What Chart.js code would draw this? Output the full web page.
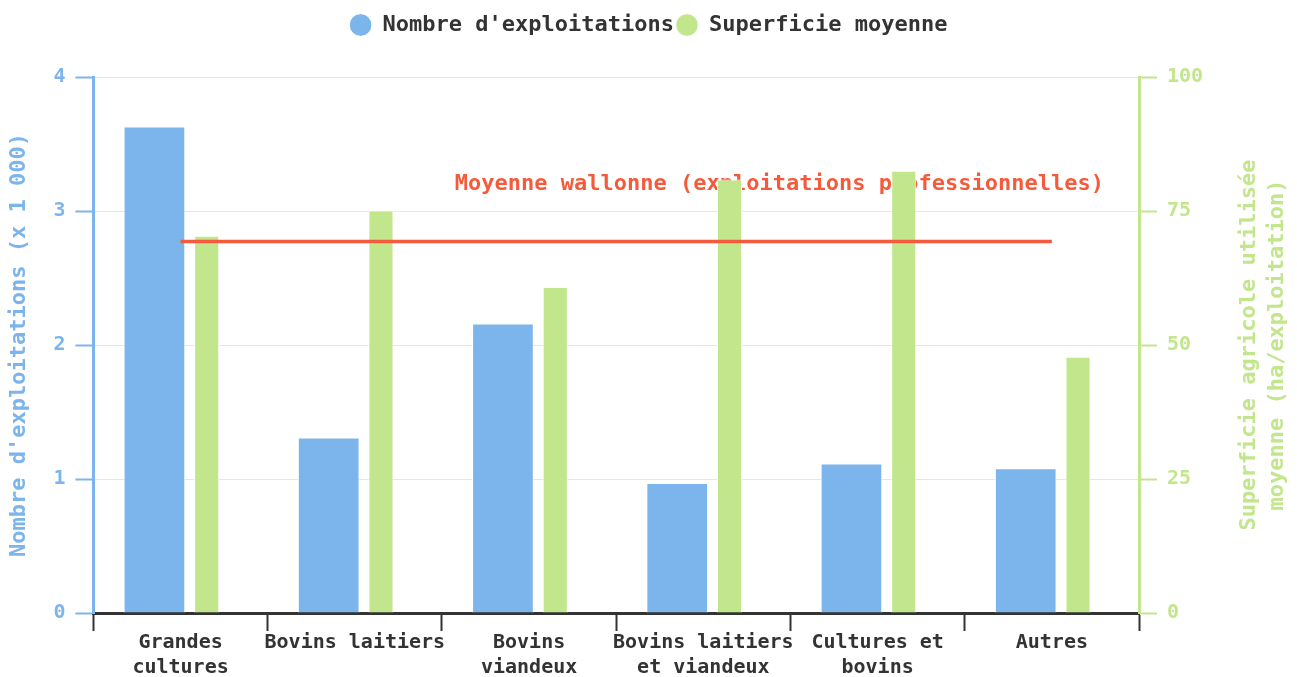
<!DOCTYPE html>
<html>
<head>
<meta charset="utf-8">
<script src="https://cdn.jsdelivr.net/npm/chart.js@4"></script>
<style>
  html, body { margin: 0; padding: 0; background: #fff; }
  #wrap { width: 1297px; height: 677px; }
</style>
</head>
<body>
<div id="wrap"><canvas id="myChart"></canvas></div>
<script>
const categories = [
  ["Grandes", "cultures"],
  "Bovins laitiers",
  ["Bovins", "viandeux"],
  ["Bovins laitiers", "et viandeux"],
  ["Cultures et", "bovins"],
  "Autres"
];
const nombreExploitations = [3.63, 1.31, 2.16, 0.97, 1.115, 1.08];
const superficieMoyenne = [70.4, 75.1, 60.8, 80.9, 82.5, 47.8];
const moyenneWallonne = [69.3, 69.3, 69.3, 69.3, 69.3, 69.3];
const leftTicks = [0, 1, 2, 3, 4];
const rightTicks = [0, 25, 50, 75, 100];

const FONT = '"DejaVu Sans Mono", monospace';
const BLUE = "#7cb5ec";
const GREEN = "#c2e68c";
const RED = "#f45b3c";

// label above the average line, drawn behind the bars
const avgLabel = {
  id: "avgLabel",
  beforeDatasetsDraw(chart) {
    const meta = chart.getDatasetMeta(0);
    const last = meta.data[meta.data.length - 1];
    const ctx = chart.ctx;
    ctx.save();
    ctx.font = "bold 22px " + FONT;
    ctx.fillStyle = RED;
    ctx.textAlign = "right";
    ctx.textBaseline = "middle";
    ctx.fillText("Moyenne wallonne (exploitations professionnelles)", last.x + 52, last.y - 57);
    ctx.restore();
  }
};

// right axis title reads bottom to top
const rightTitle = {
  id: "rightTitle",
  afterDraw(chart) {
    const ca = chart.chartArea;
    const ctx = chart.ctx;
    const cy = (ca.top + ca.bottom) / 2;
    ctx.save();
    ctx.font = "bold 22px " + FONT;
    ctx.fillStyle = GREEN;
    ctx.textAlign = "center";
    ctx.textBaseline = "middle";
    [["Superficie agricole utilisée", 110], ["moyenne (ha/exploitation)", 138]].forEach(function (l) {
      ctx.save();
      ctx.translate(ca.right + l[1], cy);
      ctx.rotate(-Math.PI / 2);
      ctx.fillText(l[0], 0, 0);
      ctx.restore();
    });
    ctx.restore();
  }
};

const legendSpace = {
  id: "legendSpace",
  beforeInit(chart) {
    const fit = chart.legend.fit;
    chart.legend.fit = function () {
      fit.bind(chart.legend)();
      this.height += 31;
    };
  }
};

new Chart("myChart", {
  type: "bar",
  data: {
    labels: categories,
    datasets: [{
      type: "line",
      label: "Moyenne wallonne",
      data: moyenneWallonne,
      yAxisID: "y2",
      borderColor: RED,
      borderWidth: 3.5,
      pointRadius: 0,
      fill: false,
      order: -1
    }, {
      label: "Nombre d'exploitations",
      data: nombreExploitations,
      yAxisID: "y",
      backgroundColor: BLUE,
      borderColor: "#fff",
      borderWidth: 1,
      barPercentage: 1.18
    }, {
      label: "Superficie moyenne",
      data: superficieMoyenne,
      yAxisID: "y2",
      backgroundColor: GREEN,
      borderColor: "#fff",
      borderWidth: 1,
      barPercentage: 0.48
    }]
  },
  options: {
    responsive: true,
    maintainAspectRatio: false,
    animation: false,
    layout: { padding: { top: 12, right: 0, left: 0, bottom: 0 } },
    datasets: { bar: { categoryPercentage: 0.6 } },
    plugins: {
      tooltip: { enabled: false },
      legend: {
        position: "top",
        labels: {
          filter: function (item) { return item.datasetIndex !== 0; },
          usePointStyle: true,
          pointStyle: "circle",
          boxWidth: 22,
          boxHeight: 16,
          padding: 2,
          color: "#333",
          font: { family: FONT, size: 22, weight: "bold" }
        }
      }
    },
    scales: {
      x: {
        afterFit: function (s) { s.height = 64; },
        grid: { drawOnChartArea: false, offset: true, tickColor: "#333", tickLength: 18, tickWidth: 2 },
        border: { color: "#333", width: 3 },
        ticks: {
          color: "#333",
          padding: -1,
          maxRotation: 0,
          autoSkip: false,
          font: { family: FONT, size: 20, weight: "bold", lineHeight: 1.25 }
        }
      },
      y: {
        position: "left",
        min: 0,
        max: 4,
        afterBuildTicks: function (s) { s.ticks = leftTicks.map(function (v) { return { value: v }; }); },
        grid: { color: "#e6e6e6", lineWidth: 1, tickColor: BLUE, tickLength: 18, tickWidth: 2 },
        border: { color: BLUE, width: 3 },
        ticks: {
          color: BLUE,
          padding: 10,
          font: { family: FONT, size: 20, weight: "bold" }
        },
        title: {
          display: true,
          text: "Nombre d'exploitations (x 1 000)",
          color: BLUE,
          padding: { top: 6, bottom: 11 },
          font: { family: FONT, size: 22, weight: "bold", lineHeight: 1.2 }
        }
      },
      y2: {
        position: "right",
        min: 0,
        max: 100,
        afterBuildTicks: function (s) { s.ticks = rightTicks.map(function (v) { return { value: v }; }); },
        afterFit: function (s) { s.width = 158; },
        grid: { drawOnChartArea: false, tickColor: GREEN, tickLength: 18, tickWidth: 2 },
        border: { color: GREEN, width: 3 },
        ticks: {
          color: GREEN,
          padding: 10,
          font: { family: FONT, size: 20, weight: "bold" }
        }
      }
    }
  },
  plugins: [avgLabel, rightTitle, legendSpace]
});
</script>
</body>
</html>
